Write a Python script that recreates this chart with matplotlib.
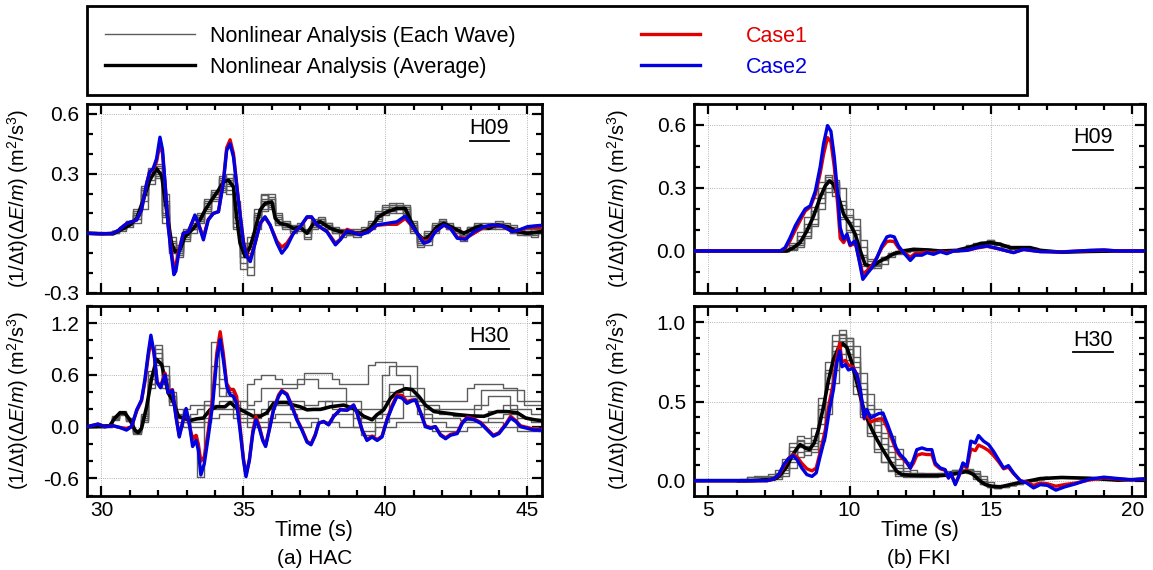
import numpy as np
import matplotlib
matplotlib.use("Agg")
import matplotlib.pyplot as plt
from matplotlib.ticker import MultipleLocator, FormatStrFormatter
from matplotlib.patches import Rectangle
from matplotlib.lines import Line2D

plt.rcParams['font.family'] = ['Liberation Sans', 'DejaVu Sans']
plt.rcParams['mathtext.fontset'] = 'custom'
plt.rcParams['mathtext.rm'] = 'Liberation Sans'
plt.rcParams['mathtext.it'] = 'Liberation Sans:italic'

# ---------------- HAC, H09 ----------------
hac_h09_t = [29.5, 30.0, 30.4, 30.6, 30.76, 30.9, 31.0, 31.24, 31.41, 31.59, 31.7, 31.82, 31.94, 32.06, 32.15,
             32.24, 32.35, 32.47, 32.55, 32.62, 32.7, 32.88, 33.06, 33.18, 33.29, 33.41, 33.59, 33.76, 33.94,
             34.12, 34.29, 34.41, 34.53, 34.65, 34.82, 35.0, 35.12, 35.24, 35.41, 35.59, 35.76, 35.94, 36.18,
             36.35, 36.53, 36.76, 37.0, 37.24, 37.4, 37.59, 37.94, 38.24, 38.41, 38.65, 38.88, 39.12, 39.41,
             39.7, 40.06, 40.41, 40.7, 40.88, 41.12, 41.35, 41.53, 41.76, 42.06, 42.29, 42.53, 42.82, 43.12,
             43.47, 43.76, 44.12, 44.47, 44.71, 45.0, 45.24, 45.5]
hac_h09_case2 = [0, -0.003, 0.0, 0.015, 0.035, 0.05, 0.055, 0.067, 0.117, 0.25, 0.31, 0.325, 0.375, 0.483, 0.42,
                 0.25, 0.033, -0.117, -0.208, -0.19, -0.117, 0.0, 0.008, 0.05, 0.092, 0.05, -0.033, 0.067, 0.1,
                 0.108, 0.25, 0.417, 0.45, 0.383, 0.167, -0.05, -0.117, -0.142, -0.05, 0.05, 0.083, 0.042, -0.05,
                 -0.1, -0.067, 0.0, 0.033, 0.083, 0.083, 0.042, 0.008, -0.058, -0.033, 0.013, 0.003, -0.008, 0.008,
                 0.042, 0.05, 0.058, 0.087, 0.05, 0.0, -0.05, -0.042, 0.008, 0.042, 0.025, -0.025, -0.03, 0.008,
                 0.033, 0.042, 0.037, 0.008, 0.017, 0.033, 0.037, 0.04]
hac_h09_case1 = [0, -0.003, 0.0, 0.015, 0.035, 0.05, 0.055, 0.067, 0.117, 0.25, 0.31, 0.32, 0.36, 0.45, 0.40,
                 0.25, 0.04, -0.1, -0.175, -0.16, -0.1, 0.0, 0.01, 0.05, 0.085, 0.05, -0.02, 0.07, 0.1,
                 0.11, 0.26, 0.43, 0.47, 0.4, 0.17, -0.04, -0.11, -0.13, -0.05, 0.05, 0.08, 0.04, -0.04,
                 -0.07, -0.05, 0.0, 0.033, 0.08, 0.08, 0.04, 0.01, -0.05, -0.03, 0.02, 0.005, -0.005, 0.008,
                 0.04, 0.045, 0.045, 0.075, 0.045, 0.0, -0.04, -0.035, 0.01, 0.04, 0.025, -0.02, -0.025, 0.0,
                 0.03, 0.04, 0.035, 0.01, 0.015, 0.03, 0.03, 0.03]
hac_h09_avg_t = [29.5, 30.41, 31.0, 31.24, 31.47, 31.7, 31.94, 32.12, 32.29, 32.47, 32.59, 32.76, 32.94, 33.24,
                 33.47, 33.65, 33.88, 34.12, 34.29, 34.47, 34.65, 34.76, 34.88, 35.06, 35.24, 35.41, 35.59, 35.76,
                 36.0, 36.12, 36.29, 36.53, 36.76, 37.0, 37.24, 37.47, 37.71, 38.06, 38.41, 38.76, 39.12, 39.47,
                 39.76, 40.06, 40.41, 40.7, 40.88, 41.12, 41.35, 41.59, 41.82, 42.06, 42.41, 42.76, 43.12, 43.35,
                 43.65, 43.94, 44.29, 44.65, 45.0, 45.5]
hac_h09_avg = [0, -0.003, 0.042, 0.075, 0.167, 0.267, 0.325, 0.29, 0.117, -0.05, -0.092, -0.083, -0.017, 0.025,
               0.067, 0.117, 0.167, 0.217, 0.258, 0.267, 0.233, 0.083, -0.05, -0.117, -0.067, 0.017, 0.117, 0.15,
               0.158, 0.075, 0.05, 0.042, 0.025, 0.03, 0.0, 0.05, 0.058, 0.025, 0.008, 0.003, 0.0, 0.025,
               0.083, 0.108, 0.125, 0.125, 0.067, 0.0, -0.033, -0.008, 0.033, 0.05, 0.025, 0.0, 0.025, 0.037,
               0.025, 0.042, 0.033, 0.008, 0.0, 0.008]
# each wave: step values every 0.25 s starting at 29.5 s
hac_h09_waves = [
    [0, 0, 0, 0, 0.01, 0.03, 0.06, 0.12, 0.24, 0.33, 0.29, 0.05, -0.09, -0.06, 0.01, 0.05, 0.1, 0.17, 0.22, 0.29,
     0.2, 0.02, -0.15, -0.02, 0.12, 0.19, 0.13, 0.04, 0.06, 0.03, 0.05, 0.01, 0.07, 0.08, 0.02, 0.0, 0.02, -0.01,
     0.01, 0.03, 0.06, 0.11, 0.14, 0.15, 0.13, 0.1, 0.0, -0.05, 0.01, 0.05, 0.07, 0.02, 0.0, -0.02, 0.03, 0.05,
     0.04, 0.02, 0.05, 0.04, 0.0, 0.01, -0.01, 0.02, 0.01],
    [0, 0, 0, 0, 0, 0.01, 0.03, 0.05, 0.12, 0.25, 0.34, 0.2, -0.02, -0.12, -0.04, 0.0, 0.05, 0.1, 0.16, 0.21,
     0.3, 0.16, -0.05, -0.21, 0.02, 0.12, 0.18, 0.09, 0.02, 0.0, 0.01, -0.03, 0.02, 0.04, 0.05, 0.02, -0.02, 0.01,
     -0.02, 0.0, 0.02, 0.06, 0.09, 0.1, 0.12, 0.14, 0.06, -0.02, -0.06, 0.0, 0.04, 0.05, 0.02, -0.04, 0.0, 0.02,
     0.05, 0.04, 0.02, 0.03, 0.04, -0.01, 0.0, -0.02, 0.03],
    [0, 0, 0, 0, 0.01, 0.02, 0.05, 0.09, 0.2, 0.3, 0.3, 0.1, -0.07, -0.1, 0.02, 0.04, 0.08, 0.12, 0.2, 0.24,
     0.24, 0.12, -0.12, -0.1, 0.05, 0.17, 0.2, 0.08, 0.05, 0.02, 0.04, 0.0, 0.03, 0.06, 0.04, 0.02, 0.01, 0.02,
     0.01, 0.0, 0.04, 0.09, 0.12, 0.13, 0.15, 0.11, 0.04, -0.04, -0.02, 0.02, 0.06, 0.03, 0.02, 0.01, 0.01, 0.04,
     0.03, 0.05, 0.03, 0.02, 0.02, 0.0, 0.01, 0.0, 0.0],
    [0, 0, 0, 0, 0, 0.02, 0.04, 0.07, 0.16, 0.27, 0.35, 0.16, -0.04, -0.07, -0.02, 0.02, 0.06, 0.15, 0.2, 0.27,
     0.27, 0.05, -0.08, -0.05, 0.09, 0.11, 0.14, 0.05, 0.03, 0.04, 0.02, 0.02, 0.05, 0.04, 0.03, 0.0, 0.0, -0.01,
     0.02, 0.02, 0.03, 0.07, 0.1, 0.12, 0.1, 0.13, 0.02, -0.03, 0.0, 0.04, 0.05, 0.04, 0.0, 0.0, 0.03, 0.03,
     0.02, 0.03, 0.06, 0.05, 0.01, 0.02, -0.01, 0.01, 0.02],
    [0, 0, 0, 0, 0.01, 0.02, 0.05, 0.1, 0.22, 0.31, 0.28, 0.08, -0.08, -0.09, -0.01, 0.03, 0.07, 0.13, 0.18, 0.23,
     0.22, 0.08, -0.12, -0.08, 0.08, 0.16, 0.15, 0.07, 0.05, 0.03, 0.02, 0.0, 0.04, 0.07, 0.03, 0.01, 0.0, 0.0,
     0.0, 0.01, 0.04, 0.09, 0.11, 0.14, 0.13, 0.12, 0.03, -0.06, -0.03, 0.03, 0.06, 0.03, 0.01, -0.01, 0.02, 0.03,
     0.02, 0.04, 0.04, 0.03, 0.01, 0.0, 0.02, 0.0, 0.01],
    [0, 0, 0, 0, 0.005, 0.025, 0.05, 0.09, 0.19, 0.3, 0.33, 0.14, -0.05, -0.11, -0.03, 0.02, 0.06, 0.11, 0.17, 0.22,
     0.28, 0.14, -0.1, -0.17, 0.04, 0.14, 0.17, 0.1, 0.03, 0.01, 0.03, -0.02, 0.03, 0.05, 0.05, 0.03, 0.0, 0.0,
     -0.01, 0.01, 0.03, 0.08, 0.1, 0.11, 0.14, 0.13, 0.05, -0.05, -0.04, 0.01, 0.05, 0.04, 0.03, -0.03, 0.01, 0.04,
     0.03, 0.03, 0.03, 0.04, 0.03, 0.0, 0.01, -0.01, 0.02],
    [0, 0, 0, 0, 0.01, 0.03, 0.06, 0.11, 0.23, 0.32, 0.31, 0.09, -0.1, -0.08, 0.0, 0.04, 0.09, 0.16, 0.21, 0.28,
     0.25, 0.03, -0.18, -0.05, 0.1, 0.2, 0.12, 0.05, 0.04, 0.02, 0.04, 0.01, 0.06, 0.07, 0.03, 0.01, 0.01, 0.0,
     0.0, 0.02, 0.05, 0.1, 0.13, 0.14, 0.12, 0.09, 0.01, -0.07, -0.01, 0.04, 0.06, 0.02, 0.01, -0.01, 0.02, 0.04,
     0.03, 0.04, 0.05, 0.03, 0.0, 0.01, 0.0, 0.01, 0.0],
]

# ---------------- HAC, H30 ----------------
hac_h30_t = [29.5, 29.88, 30.12, 30.41, 30.65, 30.88, 31.06, 31.24, 31.41, 31.53, 31.65, 31.74, 31.85, 31.96, 32.08,
             32.24, 32.35, 32.5, 32.62, 32.74, 32.88, 32.98, 33.09, 33.21, 33.33, 33.41, 33.5, 33.62, 33.76, 33.92,
             34.06, 34.18, 34.29, 34.41, 34.53, 34.65, 34.76, 34.88, 35.0, 35.09, 35.21, 35.33, 35.44, 35.56, 35.68,
             35.78, 35.91, 36.06, 36.24, 36.35, 36.53, 36.71, 36.88, 37.06, 37.24, 37.38, 37.53, 37.65, 37.82, 38.0,
             38.18, 38.41, 38.65, 38.88, 39.0, 39.18, 39.35, 39.53, 39.71, 39.88, 40.06, 40.24, 40.41, 40.59, 40.76,
             40.94, 41.06, 41.24, 41.41, 41.59, 41.76, 41.94, 42.12, 42.29, 42.53, 42.71, 42.88, 43.12, 43.35, 43.59,
             43.8, 44.0, 44.24, 44.41, 44.59, 44.76, 45.0, 45.24, 45.5]
hac_h30_case2 = [0, 0.03, 0.0, 0.01, -0.01, -0.04, 0.0, 0.195, 0.31, 0.55, 0.86, 1.06, 0.86, 0.51, 0.45,
                 0.6, 0.39, 0.42, 0.12, -0.12, 0.08, 0.21, 0.04, -0.23, -0.16, -0.27, -0.56, -0.43, -0.12, 0.27,
                 0.78, 1.01, 0.78, 0.47, 0.37, 0.35, 0.27, -0.04, -0.39, -0.58, -0.39, -0.08, 0.08, -0.02, -0.16,
                 -0.23, -0.04, 0.195, 0.35, 0.41, 0.37, 0.23, 0.08, -0.04, -0.18, -0.21, -0.1, 0.04, 0.06, 0.02,
                 0.12, 0.195, 0.19, 0.25, 0.16, -0.04, -0.16, -0.12, -0.16, -0.12, 0.08, 0.23, 0.35, 0.33, 0.27,
                 0.3, 0.31, 0.16, 0.0, -0.02, 0.0, -0.1, -0.14, -0.1, -0.08, 0.04, 0.1, 0.08, 0.04, -0.04,
                 -0.11, -0.08, 0.02, 0.1, 0.06, 0.0, -0.02, -0.04, -0.04]
hac_h30_case1 = [0, 0.03, 0.0, 0.01, -0.01, -0.02, 0.0, 0.18, 0.3, 0.52, 0.82, 1.0, 0.85, 0.52, 0.47,
                 0.62, 0.4, 0.43, 0.13, -0.1, 0.08, 0.2, 0.03, -0.15, -0.1, -0.2, -0.4, -0.35, -0.05, 0.35,
                 0.85, 1.1, 0.85, 0.5, 0.43, 0.43, 0.35, 0.0, -0.37, -0.56, -0.38, -0.05, 0.12, 0.0, -0.15,
                 -0.22, -0.03, 0.2, 0.37, 0.42, 0.38, 0.24, 0.09, -0.03, -0.17, -0.2, -0.09, 0.04, 0.06, 0.03,
                 0.12, 0.2, 0.19, 0.25, 0.16, -0.04, -0.15, -0.11, -0.15, -0.11, 0.09, 0.25, 0.37, 0.36, 0.29,
                 0.31, 0.31, 0.16, 0.01, -0.01, 0.0, -0.09, -0.13, -0.09, -0.07, 0.05, 0.11, 0.09, 0.05, -0.03,
                 -0.1, -0.07, 0.03, 0.12, 0.07, 0.01, -0.01, -0.03, -0.03]
hac_h30_avg_t = [29.5, 30.29, 30.47, 30.65, 30.82, 31.0, 31.18, 31.29, 31.41, 31.59, 31.76, 31.94, 32.12, 32.24,
                 32.35, 32.53, 32.71, 32.88, 33.12, 33.35, 33.59, 33.82, 34.06, 34.35, 34.53, 34.71, 34.88, 35.12,
                 35.35, 35.59, 35.82, 36.06, 36.29, 36.53, 36.76, 37.0, 37.24, 37.47, 37.71, 38.06, 38.53, 38.88,
                 39.24, 39.53, 39.71, 39.94, 40.18, 40.41, 40.71, 40.94, 41.18, 41.41, 41.71, 42.06, 42.53, 43.0,
                 43.47, 43.94, 44.29, 44.65, 44.94, 45.24, 45.5]
hac_h30_avg = [0, 0.01, 0.1, 0.16, 0.16, 0.08, -0.04, -0.07, -0.02, 0.23, 0.55, 0.78, 0.72, 0.55,
               0.39, 0.29, 0.12, 0.1, 0.07, 0.09, 0.1, 0.195, 0.23, 0.23, 0.28, 0.23, 0.2, 0.16,
               0.12, 0.12, 0.16, 0.27, 0.28, 0.28, 0.25, 0.23, 0.195, 0.2, 0.2, 0.23, 0.25, 0.21,
               0.12, 0.08, 0.14, 0.195, 0.33, 0.4, 0.44, 0.43, 0.35, 0.25, 0.175, 0.16, 0.14, 0.125,
               0.12, 0.175, 0.175, 0.16, 0.1, 0.08, 0.07]
hac_h30_waves = [
    [0, 0, 0, 0.01, 0.12, 0.18, 0.06, -0.08, 0.15, 0.65, 0.95, 0.7, 0.4, 0.2, 0.05, -0.1, -0.58, 0.3,
     0.98, 0.55, 0.45, 0.3, 0.2, 0.5, 0.55, 0.6, 0.6, 0.55, 0.5, 0.5, 0.5, 0.62, 0.62, 0.62, 0.62, 0.55,
     0.5, 0.5, 0.5, 0.5, 0.72, 0.75, 0.75, 0.75, 0.6, 0.6, 0.35, 0.3, 0.3, 0.3, 0.3, 0.3, 0.3, 0.3,
     0.45, 0.5, 0.5, 0.5, 0.5, 0.45, 0.45, 0.3, 0.3, 0.3, 0.3],
    [0, 0, 0, 0.02, 0.1, 0.15, 0.1, -0.05, 0.05, 0.5, 0.85, 0.6, 0.35, 0.1, 0.1, 0.15, 0.2, 0.25,
     0.7, 0.45, 0.35, 0.3, 0.3, 0.25, 0.3, 0.45, 0.45, 0.45, 0.45, 0.45, 0.55, 0.55, 0.55, 0.45, 0.45, 0.45,
     0.45, 0.3, 0.3, 0.2, 0.2, 0.2, 0.6, 0.7, 0.7, 0.7, 0.7, 0.25, 0.25, 0.25, 0.2, 0.2, 0.2, 0.2,
     0.2, 0.2, 0.42, 0.42, 0.42, 0.42, 0.42, 0.42, 0.25, 0.25, 0.25],
    [0, 0, 0, 0.0, 0.08, 0.14, 0.09, -0.04, 0.1, 0.55, 0.75, 0.5, 0.28, 0.15, 0.2, 0.25, 0.25, 0.25,
     0.25, 0.3, 0.3, 0.2, 0.2, 0.2, 0.15, 0.15, 0.3, 0.3, 0.3, 0.3, 0.3, 0.2, 0.2, 0.2, 0.3, 0.3,
     0.3, 0.2, 0.2, 0.1, 0.1, 0.1, 0.3, 0.5, 0.5, 0.45, 0.45, 0.45, 0.2, 0.2, 0.15, 0.15, 0.12, 0.12,
     0.12, 0.25, 0.25, 0.35, 0.35, 0.35, 0.2, 0.2, 0.2, 0.15, 0.15],
    [0, 0, 0, 0.01, 0.1, 0.17, 0.08, -0.07, 0.08, 0.45, 0.72, 0.6, 0.35, 0.05, 0.0, 0.05, 0.05, 0.1,
     0.1, 0.15, 0.15, 0.1, 0.1, 0.05, 0.05, 0.05, 0.1, 0.15, 0.15, 0.15, 0.1, 0.1, 0.1, 0.05, 0.05, 0.15,
     0.15, 0.15, 0.0, -0.05, -0.05, 0.05, 0.05, 0.1, 0.1, 0.3, 0.3, 0.3, 0.1, 0.05, 0.05, 0.0, 0.0, 0.05,
     0.05, 0.05, 0.05, 0.1, 0.1, 0.15, 0.15, 0.0, 0.0, 0.0, -0.05],
    [0, 0, 0, 0.0, 0.09, 0.16, 0.07, -0.06, 0.12, 0.6, 0.8, 0.45, 0.25, 0.1, 0.05, 0.0, 0.0, 0.05,
     0.2, 0.2, 0.2, 0.15, 0.05, 0.0, 0.0, 0.0, 0.05, 0.05, 0.05, 0.0, 0.0, 0.0, 0.05, 0.05, 0.05, 0.05,
     0.0, 0.0, 0.0, -0.1, -0.1, 0.0, 0.0, 0.0, 0.05, 0.05, 0.05, 0.05, 0.0, -0.05, -0.05, -0.05, -0.05, -0.05,
     0.0, 0.0, 0.05, 0.05, 0.05, 0.0, 0.0, -0.05, -0.05, -0.05, -0.05],
    [0, 0, 0, 0.02, 0.11, 0.16, 0.09, -0.06, 0.08, 0.5, 0.9, 0.55, 0.3, 0.12, 0.12, 0.1, 0.1, 0.15,
     0.5, 0.35, 0.4, 0.25, 0.15, 0.1, 0.1, 0.2, 0.2, 0.25, 0.25, 0.2, 0.2, 0.25, 0.25, 0.3, 0.3, 0.2,
     0.2, 0.2, 0.1, 0.05, 0.05, 0.15, 0.15, 0.4, 0.4, 0.35, 0.35, 0.15, 0.15, 0.1, 0.1, 0.1, 0.1, 0.08,
     0.08, 0.12, 0.12, 0.18, 0.18, 0.25, 0.25, 0.1, 0.1, 0.05, 0.05],
]

# ---------------- FKI, H09 ----------------
fki_h09_t = [4.5, 7.55, 7.72, 7.9, 8.08, 8.25, 8.43, 8.61, 8.79, 8.96, 9.08, 9.22, 9.34, 9.46, 9.58, 9.67, 9.79,
             9.91, 10.02, 10.2, 10.32, 10.47, 10.61, 10.79, 10.97, 11.14, 11.32, 11.44, 11.58, 11.73, 11.91, 12.15,
             12.32, 12.56, 12.74, 12.97, 13.21, 13.44, 13.68, 14.15, 14.5, 14.86, 15.21, 15.57, 15.8, 16.16, 16.39,
             16.75, 17.5, 18.5, 19.0, 19.5, 20.5]
fki_h09_case2 = [0, 0, 0.016, 0.064, 0.12, 0.16, 0.2, 0.215, 0.286, 0.4, 0.51, 0.597, 0.57, 0.446, 0.27, 0.11, 0.056,
                 0.08, 0.03, 0.048, -0.032, -0.135, -0.11, -0.08, -0.032, 0.024, 0.067, 0.072, 0.067, 0.024, -0.008,
                 -0.045, -0.02, -0.02, -0.008, -0.016, -0.003, -0.013, 0.0, 0.003, 0.016, 0.024, 0.013, 0.0, -0.008,
                 0.008, 0.003, -0.003, -0.005, 0.003, 0.005, 0.0, 0.0]
fki_h09_case1 = [0, 0, 0.012, 0.05, 0.1, 0.145, 0.19, 0.21, 0.27, 0.37, 0.46, 0.54, 0.52, 0.4, 0.22, 0.06, 0.04,
                 0.07, 0.025, 0.04, -0.03, -0.11, -0.095, -0.07, -0.03, 0.015, 0.045, 0.047, 0.045, 0.015, -0.005,
                 -0.03, -0.012, -0.01, -0.005, -0.01, -0.002, -0.008, 0.0, 0.003, 0.014, 0.022, 0.012, 0.0, -0.007,
                 0.007, 0.003, -0.003, -0.004, 0.002, 0.004, 0.0, 0.0]
fki_h09_avg_t = [4.5, 7.78, 8.02, 8.25, 8.49, 8.73, 8.96, 9.14, 9.29, 9.43, 9.61, 9.79, 10.02, 10.2, 10.38, 10.55,
                 10.73, 10.91, 11.08, 11.32, 11.56, 11.91, 12.26, 12.74, 13.21, 13.8, 14.27, 14.62, 14.98, 15.33,
                 15.68, 16.04, 16.39, 16.75, 17.5, 18.5, 19.5, 20.5]
fki_h09_avg = [0, 0, 0.016, 0.04, 0.095, 0.167, 0.255, 0.31, 0.334, 0.318, 0.255, 0.175, 0.127, 0.08, 0.0, -0.064,
               -0.072, -0.064, -0.048, -0.032, -0.013, 0.0, 0.008, 0.005, 0.0, 0.003, 0.019, 0.035, 0.04, 0.032,
               0.016, 0.016, 0.016, 0.003, -0.006, -0.002, 0.0, 0.0]
# each wave: step values every 0.25 s starting at 6.0 s
fki_h09_waves = [
    [0, 0, 0, 0, 0, 0, 0, 0.005, 0.03, 0.07, 0.13, 0.21, 0.3, 0.36, 0.33, 0.22, 0.16, 0.1, -0.02, -0.08, -0.06,
     -0.04, -0.02, -0.01, 0.0, 0.01, 0.01, 0.005, 0.0, 0.0, 0.0, 0.005, 0.015, 0.03, 0.04, 0.045, 0.05, 0.04,
     0.03, 0.02, 0.02, 0.02, 0.015, 0.005, 0.0],
    [0, 0, 0, 0, 0, 0, 0, 0, 0.01, 0.03, 0.07, 0.13, 0.23, 0.3, 0.32, 0.24, 0.17, 0.12, 0.02, -0.05, -0.07,
     -0.045, -0.02, -0.01, 0.0, 0.0, 0.005, 0.0, -0.005, 0.0, 0.0, 0.0, 0.005, 0.015, 0.025, 0.035, 0.04, 0.035,
     0.025, 0.015, 0.015, 0.015, 0.01, 0.0, 0.0],
    [0, 0, 0, 0, 0, 0, 0, 0, 0.02, 0.05, 0.11, 0.19, 0.27, 0.33, 0.28, 0.16, 0.1, 0.04, -0.06, -0.07, -0.05,
     -0.03, -0.01, 0.0, 0.01, 0.01, 0.005, 0.01, 0.005, 0.0, 0.0, 0.0, 0.01, 0.02, 0.035, 0.04, 0.045, 0.035,
     0.02, 0.02, 0.015, 0.02, 0.015, 0.005, 0.0],
    [0, 0, 0, 0, 0, 0, 0, 0, 0.01, 0.04, 0.09, 0.15, 0.25, 0.35, 0.3, 0.2, 0.14, 0.08, -0.03, -0.08, -0.065,
     -0.04, -0.015, -0.01, 0.005, 0.005, 0.005, 0.0, 0.0, 0.0, 0.0, 0.0, 0.01, 0.02, 0.03, 0.04, 0.035, 0.03,
     0.02, 0.01, 0.015, 0.01, 0.01, 0.0, 0.0],
    [0, 0, 0, 0, 0, 0, 0, 0, 0.005, 0.02, 0.06, 0.12, 0.2, 0.28, 0.34, 0.3, 0.2, 0.15, 0.05, -0.04, -0.08,
     -0.06, -0.03, -0.015, -0.005, 0.005, 0.01, 0.01, 0.005, 0.0, 0.0, 0.0, 0.005, 0.015, 0.03, 0.04, 0.045, 0.04,
     0.03, 0.02, 0.02, 0.015, 0.01, 0.005, 0.0],
    [0, 0, 0, 0, 0, 0, 0, 0.01, 0.04, 0.09, 0.16, 0.25, 0.33, 0.34, 0.26, 0.15, 0.09, 0.03, -0.07, -0.075, -0.05,
     -0.03, -0.01, 0.0, 0.005, 0.01, 0.005, 0.005, 0.0, 0.0, 0.0, 0.005, 0.01, 0.025, 0.035, 0.045, 0.05, 0.04,
     0.025, 0.02, 0.015, 0.015, 0.01, 0.005, 0.0],
]

# ---------------- FKI, H30 ----------------
fki_h30_t = [4.5, 7.08, 7.31, 7.49, 7.67, 7.84, 8.0, 8.14, 8.31, 8.49, 8.67, 8.82, 8.96, 9.14, 9.29, 9.43, 9.55,
             9.65, 9.73, 9.85, 9.96, 10.12, 10.26, 10.38, 10.52, 10.61, 10.75, 10.85, 11.03, 11.18, 11.32, 11.5,
             11.65, 11.79, 11.97, 12.15, 12.26, 12.38, 12.56, 12.74, 12.91, 13.03, 13.21, 13.38, 13.5, 13.58,
             13.74, 13.86, 14.01, 14.15, 14.29, 14.45, 14.56, 14.74, 14.92, 15.09, 15.27, 15.45, 15.62, 15.8,
             16.04, 16.27, 16.51, 16.75, 17.0, 17.3, 17.6, 18.0, 18.5, 19.0, 19.4, 20.0, 20.5]
fki_h30_case2 = [0, 0, 0.01, 0.038, 0.1, 0.14, 0.158, 0.133, 0.08, 0.038, 0.027, 0.049, 0.154, 0.28, 0.45, 0.576,
                 0.745, 0.82, 0.72, 0.734, 0.7, 0.71, 0.67, 0.576, 0.397, 0.45, 0.397, 0.407, 0.424, 0.428, 0.365,
                 0.28, 0.207, 0.165, 0.133, 0.08, 0.133, 0.196, 0.207, 0.196, 0.196, 0.112, 0.08, 0.07, 0.017,
                 0.049, -0.025, 0.027, 0.112, 0.09, 0.25, 0.238, 0.285, 0.25, 0.228, 0.186, 0.133, 0.08, 0.095,
                 0.049, 0.0, -0.015, -0.046, -0.025, -0.03, -0.06, -0.04, -0.02, 0.01, 0.022, 0.015, 0.005, 0.012]
fki_h30_case1 = [0, 0, 0.01, 0.035, 0.09, 0.14, 0.165, 0.15, 0.11, 0.075, 0.062, 0.08, 0.18, 0.32, 0.5, 0.62,
                 0.78, 0.87, 0.75, 0.76, 0.73, 0.72, 0.67, 0.57, 0.39, 0.42, 0.37, 0.38, 0.39, 0.39, 0.34,
                 0.26, 0.19, 0.155, 0.125, 0.08, 0.11, 0.16, 0.17, 0.165, 0.165, 0.1, 0.075, 0.065, 0.017,
                 0.045, -0.02, 0.025, 0.1, 0.08, 0.2, 0.19, 0.225, 0.21, 0.19, 0.16, 0.12, 0.075, 0.085,
                 0.045, 0.0, -0.01, -0.03, -0.015, -0.02, -0.035, -0.025, -0.015, 0.005, 0.018, 0.012, 0.005, 0.01]
fki_h30_avg_t = [4.5, 6.5, 7.19, 7.43, 7.61, 7.78, 7.96, 8.11, 8.25, 8.43, 8.58, 8.75, 8.9, 9.08, 9.26, 9.43, 9.61,
                 9.76, 9.91, 10.08, 10.26, 10.44, 10.61, 10.79, 10.97, 11.14, 11.32, 11.5, 11.67, 11.85, 12.15,
                 12.5, 12.85, 13.21, 13.56, 13.92, 14.15, 14.39, 14.56, 14.8, 15.04, 15.33, 15.68, 16.04, 16.39,
                 16.75, 17.5, 18.5, 19.5, 20.5]
fki_h30_avg = [0, 0.0, 0.006, 0.017, 0.049, 0.09, 0.154, 0.196, 0.228, 0.207, 0.196, 0.238, 0.323, 0.47, 0.64,
               0.766, 0.84, 0.867, 0.84, 0.745, 0.618, 0.49, 0.397, 0.323, 0.26, 0.207, 0.154, 0.101, 0.059, 0.038,
               0.034, 0.032, 0.032, 0.032, 0.038, 0.049, 0.059, 0.038, 0.006, -0.025, -0.036, -0.04, -0.025,
               -0.011, 0.0, 0.013, 0.02, 0.015, 0.003, 0.01]
fki_h30_waves = [
    [0, 0, 0.02, 0.03, 0.03, 0.04, 0.07, 0.14, 0.24, 0.28, 0.27, 0.33, 0.52, 0.75, 0.92, 0.95, 0.8, 0.6, 0.42,
     0.3, 0.2, 0.12, 0.06, 0.03, 0.02, 0.02, 0.02, 0.02, 0.025, 0.03, 0.04, 0.05, 0.06, 0.06, 0.03, -0.01,
     -0.04, -0.045, -0.04, -0.03, -0.02, -0.01, 0.0, 0.01, 0.015],
    [0, 0, 0, 0, 0.01, 0.01, 0.02, 0.05, 0.12, 0.18, 0.16, 0.18, 0.3, 0.5, 0.7, 0.85, 0.88, 0.75, 0.58,
     0.45, 0.35, 0.27, 0.18, 0.1, 0.06, 0.05, 0.05, 0.045, 0.045, 0.05, 0.055, 0.065, 0.07, 0.075, 0.04, 0.0,
     -0.025, -0.035, -0.03, -0.02, -0.01, 0.0, 0.005, 0.015, 0.02],
    [0, 0, 0.01, 0.01, 0.015, 0.02, 0.04, 0.1, 0.19, 0.25, 0.22, 0.26, 0.45, 0.68, 0.85, 0.9, 0.83, 0.68, 0.5,
     0.38, 0.28, 0.2, 0.12, 0.06, 0.04, 0.04, 0.035, 0.035, 0.035, 0.04, 0.045, 0.055, 0.06, 0.065, 0.02, -0.02,
     -0.035, -0.045, -0.035, -0.025, -0.015, -0.005, 0.005, 0.01, 0.02],
    [0, 0, 0, 0.005, 0.005, 0.01, 0.03, 0.07, 0.14, 0.21, 0.19, 0.22, 0.36, 0.58, 0.78, 0.88, 0.85, 0.72, 0.55,
     0.42, 0.31, 0.23, 0.15, 0.08, 0.05, 0.045, 0.04, 0.04, 0.04, 0.045, 0.05, 0.06, 0.065, 0.07, 0.03, -0.01,
     -0.03, -0.04, -0.035, -0.025, -0.015, -0.005, 0.005, 0.012, 0.018],
    [0, 0.01, 0.02, 0.02, 0.025, 0.03, 0.05, 0.12, 0.21, 0.26, 0.24, 0.28, 0.48, 0.7, 0.88, 0.93, 0.76, 0.55, 0.4,
     0.28, 0.18, 0.12, 0.07, 0.04, 0.03, 0.03, 0.03, 0.03, 0.03, 0.035, 0.04, 0.05, 0.055, 0.05, 0.01, -0.02,
     -0.04, -0.045, -0.04, -0.03, -0.02, -0.01, 0.0, 0.01, 0.015],
    [0, 0, 0, 0, 0, 0.005, 0.01, 0.03, 0.08, 0.15, 0.2, 0.2, 0.25, 0.42, 0.62, 0.8, 0.9, 0.85, 0.68,
     0.55, 0.45, 0.36, 0.28, 0.2, 0.12, 0.07, 0.05, 0.05, 0.05, 0.05, 0.06, 0.07, 0.075, 0.07, 0.06, 0.03,
     -0.01, -0.03, -0.035, -0.025, -0.015, -0.005, 0.005, 0.012, 0.02],
    [0, 0, 0.005, 0.01, 0.01, 0.015, 0.03, 0.08, 0.16, 0.23, 0.21, 0.24, 0.4, 0.62, 0.82, 0.92, 0.9, 0.78, 0.62,
     0.48, 0.38, 0.3, 0.22, 0.14, 0.08, 0.05, 0.04, 0.04, 0.04, 0.045, 0.05, 0.06, 0.065, 0.065, 0.05, 0.01,
     -0.025, -0.04, -0.035, -0.025, -0.015, -0.005, 0.005, 0.012, 0.018],
]

ylabel = r'(1/$\mathit{\Delta}$t)($\mathit{\Delta E/m}$) (m$^2$/s$^3$)'

fig = plt.figure(figsize=(11.53, 5.70), dpi=100)
ax_hac09 = fig.add_axes([0.0757, 0.486, 0.394, 0.3316])
ax_hac30 = fig.add_axes([0.0757, 0.1304, 0.394, 0.333])
ax_fki09 = fig.add_axes([0.602, 0.486, 0.391, 0.3316])
ax_fki30 = fig.add_axes([0.602, 0.1304, 0.391, 0.333])

panels = [
    (ax_hac09, hac_h09_waves, 29.5, hac_h09_avg_t, hac_h09_avg, hac_h09_t, hac_h09_case1, hac_h09_case2,
     (29.5, 45.5), (-0.3, 0.65), 0.3, 0.1, 'H09', 0.87, -0.123),
    (ax_hac30, hac_h30_waves, 29.5, hac_h30_avg_t, hac_h30_avg, hac_h30_t, hac_h30_case1, hac_h30_case2,
     (29.5, 45.5), (-0.8, 1.4), 0.6, 0.2, 'H30', 0.84, -0.123),
    (ax_fki09, fki_h09_waves, 6.0, fki_h09_avg_t, fki_h09_avg, fki_h09_t, fki_h09_case1, fki_h09_case2,
     (4.5, 20.45), (-0.2, 0.7), 0.3, 0.1, 'H09', 0.82, -0.14),
    (ax_fki30, fki_h30_waves, 6.0, fki_h30_avg_t, fki_h30_avg, fki_h30_t, fki_h30_case1, fki_h30_case2,
     (4.5, 20.45), (-0.095, 1.105), 0.5, 0.1, 'H30', 0.82, -0.14),
]

for ax, waves, t0, avg_t, avg, ct, c1, c2, xl, yl, ymaj, ymin, tag, ty, lx in panels:
    for w in waves:
        tw = t0 + 0.25 * np.arange(len(w))
        ax.step(tw, w, where='mid', color='#5c5c5c', lw=1.0, zorder=2)
    ax.plot(avg_t, avg, color='black', lw=2.6, zorder=3)
    ax.plot(ct, c1, color='#e00000', lw=2.4, zorder=4)
    ax.plot(ct, c2, color='#0000e0', lw=2.4, zorder=5)
    ax.set_xlim(*xl)
    ax.set_ylim(*yl)
    ax.xaxis.set_major_locator(MultipleLocator(5))
    ax.xaxis.set_minor_locator(MultipleLocator(1))
    ax.yaxis.set_major_locator(MultipleLocator(ymaj))
    ax.yaxis.set_minor_locator(MultipleLocator(ymin))
    ax.yaxis.set_major_formatter(FormatStrFormatter('%.1f'))
    ax.grid(True, which='major', color='#9a9a9a', lw=0.6, ls=':')
    ax.tick_params(which='both', direction='in', top=True, right=True, labelsize=15, width=1.6)
    ax.tick_params(which='major', length=7)
    ax.tick_params(which='minor', length=4)
    ax.tick_params(axis='y', pad=6)
    for s in ax.spines.values():
        s.set_linewidth(2.0)
    ax.set_ylabel(ylabel, fontsize=14.3)
    ax.yaxis.set_label_coords(lx, 0.5)
    ax.text(0.885, ty, tag, transform=ax.transAxes, fontsize=15.5, ha='center', va='center', zorder=6)

for ax in (ax_hac09, ax_fki09):
    ax.tick_params(labelbottom=False)
for ax in (ax_hac30, ax_fki30):
    ax.set_xlabel('Time (s)', fontsize=15.5, labelpad=0)

fig.text(0.273, 0.021, '(a) HAC', fontsize=15, ha='center', va='center')
fig.text(0.797, 0.021, '(b) FKI', fontsize=15, ha='center', va='center')

# underline the station tags
fig.canvas.draw()
rend = fig.canvas.get_renderer()
for ax in (ax_hac09, ax_hac30, ax_fki09, ax_fki30):
    t = ax.texts[0]
    bb = t.get_window_extent(rend).transformed(ax.transAxes.inverted())
    ax.plot([bb.x0, bb.x1], [bb.y0 - 0.01, bb.y0 - 0.01], transform=ax.transAxes, color='black', lw=1.3,
            clip_on=False, zorder=6)

# legend
fig.add_artist(Rectangle((0.0755, 0.8333), 0.815, 0.156, transform=fig.transFigure, fill=False,
                         lw=2, ec='black'))
h1 = [Line2D([], [], color='#5c5c5c', lw=1.0), Line2D([], [], color='black', lw=2.4)]
leg1 = fig.legend(h1, ['Nonlinear Analysis (Each Wave)', 'Nonlinear Analysis (Average)'],
                  loc='center left', bbox_to_anchor=(0.091, 0.909), frameon=False, fontsize=15.5,
                  handlelength=4.2, handletextpad=0.7, labelspacing=0.45, borderpad=0, borderaxespad=0)
h2 = [Line2D([], [], color='#e00000', lw=2.4), Line2D([], [], color='#0000e0', lw=2.4)]
leg2 = fig.legend(h2, ['Case1', 'Case2'], loc='center left', bbox_to_anchor=(0.556, 0.909), frameon=False,
                  fontsize=15.5, handlelength=2.75, handletextpad=2.1, labelspacing=0.45, borderpad=0,
                  borderaxespad=0)
leg2.get_texts()[0].set_color('#e00000')
leg2.get_texts()[1].set_color('#0000e0')

fig.savefig('out.png', dpi=100)
